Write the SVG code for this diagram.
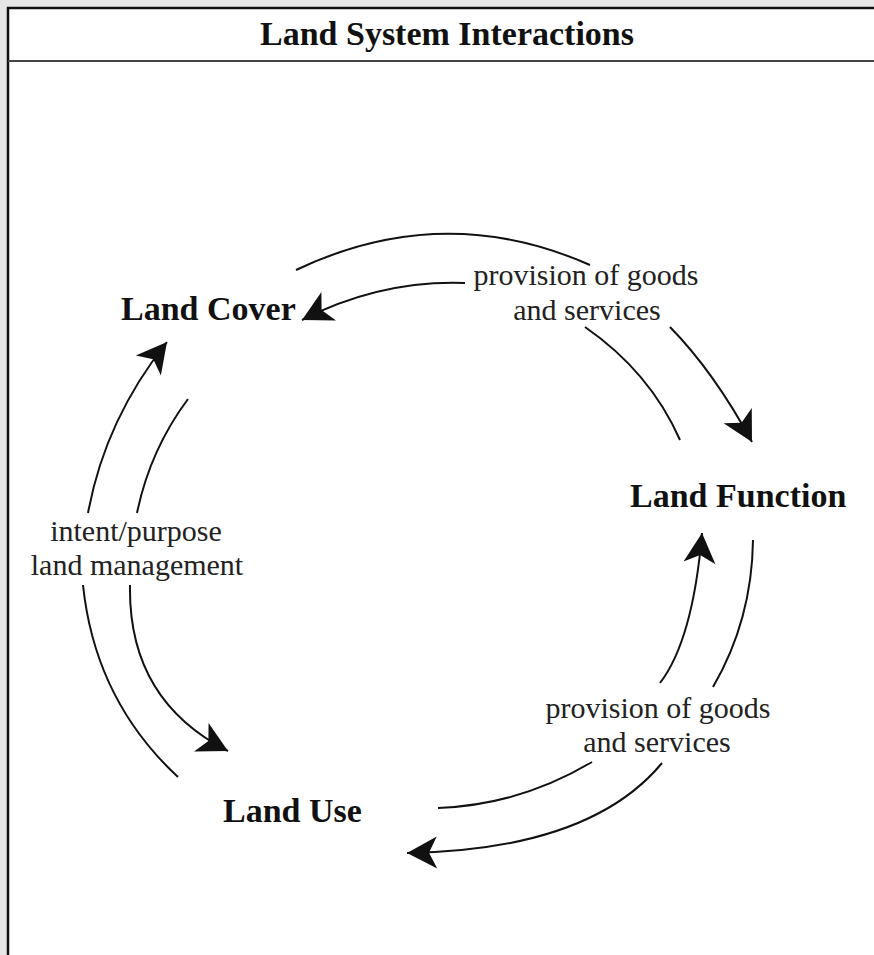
<svg xmlns="http://www.w3.org/2000/svg" width="874" height="955" viewBox="0 0 874 955">
<style>
.node text{font-family:"Liberation Serif","Times New Roman",serif;font-weight:bold;font-size:34px;fill:#111}
.title{font-family:"Liberation Serif","Times New Roman",serif;font-weight:bold;font-size:34px;fill:#111;text-anchor:middle}
.lbl{font-family:"Liberation Serif","Times New Roman",serif;font-size:30px;fill:#222;text-anchor:middle}
.conn path{fill:none;stroke:#111;stroke-width:2}
</style>
<defs>
<marker id="ah" markerUnits="userSpaceOnUse" markerWidth="40" markerHeight="40" viewBox="-34 -20 40 40" refX="0" refY="0" orient="auto">
<path d="M0,0 L-30,-16 L-22,0 L-30,16 Z" fill="#111" stroke="none"/>
</marker>
</defs>
<rect x="0" y="0" width="874" height="955" fill="#e6e6e6"/>
<rect x="8" y="8" width="880" height="960" fill="#fff" stroke="#111" stroke-width="2.5"/>
<line x1="8" y1="61" x2="874" y2="61" stroke="#444" stroke-width="2.2"/>
<text class="title" x="447" y="45">Land System Interactions</text>

<g id="conn" class="conn">
<path id="e-cover-function" d="M296,270 Q443,200 590,265 M670,327 Q714,372 752,442" marker-end="url(#ah)"/>
<path id="e-function-cover" d="M680,440 Q650,372 585,327 M465,283 Q380,280 302,320" marker-end="url(#ah)"/>
<path id="e-use-cover" d="M178,777 Q95,700 83,585 M88,513 Q105,420 167,342" marker-end="url(#ah)"/>
<path id="e-cover-use" d="M188,399 Q150,450 137,513 M130,585 Q128,700 228,751" marker-end="url(#ah)"/>
<path id="e-use-function" d="M438,808 Q520,805 592,762 M660,683 Q693,640 702,533" marker-end="url(#ah)"/>
<path id="e-function-use" d="M753,540 Q752,620 713,687 M662,763 Q590,850 407,853" marker-end="url(#ah)"/>
</g>

<g id="labels">
<text class="lbl" x="586" y="285">provision of goods</text>
<text class="lbl" x="587" y="320">and services</text>
<text class="lbl" x="136" y="541">intent/purpose</text>
<text class="lbl" x="137" y="575">land management</text>
<text class="lbl" x="658" y="718">provision of goods</text>
<text class="lbl" x="657" y="752">and services</text>
</g>

<g id="land-cover" class="node"><text x="121" y="320">Land Cover</text></g>
<g id="land-function" class="node"><text x="630" y="507">Land Function</text></g>
<g id="land-use" class="node"><text x="223" y="822">Land Use</text></g>
</svg>
